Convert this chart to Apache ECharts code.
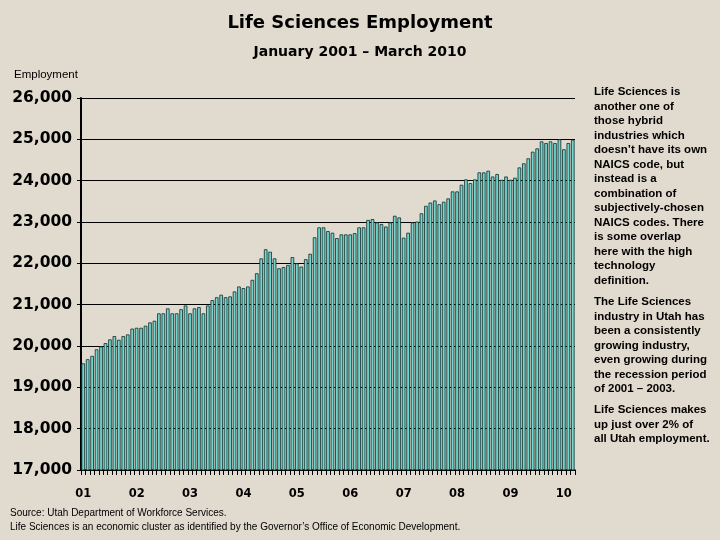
<!DOCTYPE html>
<html>
<head>
<meta charset="utf-8">
<script src="https://cdn.jsdelivr.net/npm/echarts@6/dist/echarts.min.js"></script>
<style>
html,body{margin:0;padding:0;background:#e1dace;}
#c{width:720px;height:540px;}
</style>
</head>
<body>
<div id="c"></div>
<script>
// Monthly Life Sciences employment, Utah
const y2001 = [19580, 19680, 19760, 19920, 19990, 20070, 20160, 20240, 20150, 20240, 20280, 20420];
const y2002 = [20440, 20440, 20490, 20570, 20610, 20790, 20790, 20910, 20790, 20790, 20890, 20980];
const y2003 = [20790, 20910, 20940, 20790, 20980, 21110, 21180, 21240, 21180, 21200, 21320, 21440];
const y2004 = [21400, 21440, 21600, 21760, 22120, 22340, 22280, 22120, 21880, 21910, 21960, 22150];
const y2005 = [22000, 21920, 22100, 22230, 22630, 22870, 22870, 22780, 22740, 22610, 22700, 22700];
const y2006 = [22700, 22730, 22870, 22870, 23050, 23070, 22990, 22950, 22890, 22990, 23150, 23110];
const y2007 = [22620, 22740, 22990, 23010, 23210, 23390, 23470, 23520, 23430, 23490, 23570, 23740];
const y2008 = [23740, 23900, 24030, 23940, 24030, 24200, 24200, 24240, 24100, 24160, 24020, 24100];
const y2009 = [24020, 24070, 24320, 24420, 24540, 24700, 24780, 24950, 24910, 24950, 24910, 25000];
const y2010 = [24760, 24910, 24990];
const yearLabels = ['01', '02', '03', '04', '05', '06', '07', '08', '09', '10'];
const yearValues = [y2001, y2002, y2003, y2004, y2005, y2006, y2007, y2008, y2009, y2010];

const categories = [];
const values = [];
yearValues.forEach((arr, yi) => {
  arr.forEach((v, m) => {
    categories.push(m === 0 ? yearLabels[yi] : yearLabels[yi] + '-' + (m + 1));
    values.push(v);
  });
});

const sideText = [
  'Life Sciences is\nanother one of\nthose hybrid\nindustries which\ndoesn\u2019t have its own\nNAICS code, but\ninstead is a\ncombination of\nsubjectively-chosen\nNAICS codes. There\nis some overlap\nhere with the high\ntechnology\ndefinition.',
  'The Life Sciences\nindustry in Utah has\nbeen a consistently\ngrowing industry,\neven growing during\nthe recession period\nof 2001 \u2013 2003.',
  'Life Sciences makes\nup just over 2% of\nall Utah employment.'
];

const chart = echarts.init(document.getElementById('c'), null, {renderer: 'canvas'});
const sideFont = 'bold 11.5px "Liberation Sans", Arial, sans-serif';
const smallFont = '10px "Liberation Sans", Arial, sans-serif';
chart.setOption({
  backgroundColor: '#e1dace',
  animation: false,
  title: [
    {text: 'Life Sciences Employment', left: 'center', top: 9,
     textStyle: {fontFamily: '"DejaVu Sans"', fontWeight: 'bold', fontSize: 18, color: '#000'}},
    {text: 'January 2001 \u2013 March 2010', left: 'center', top: 40,
     textStyle: {fontFamily: '"DejaVu Sans"', fontWeight: 'bold', fontSize: 14, color: '#000'}}
  ],
  grid: {left: 81, right: 145, top: 98, bottom: 70},
  xAxis: {
    type: 'category',
    data: categories,
    boundaryGap: true,
    axisLine: {lineStyle: {color: '#000', width: 1.5}},
    axisTick: {show: true, interval: 0, length: 5, lineStyle: {color: '#000', width: 1}},
    axisLabel: {
      interval: 0,
      formatter: v => (v.indexOf('-') === -1 ? v : ''),
      margin: 18,
      fontFamily: '"DejaVu Sans"', fontWeight: 'bold', fontSize: 11.5, color: '#000'
    },
    splitLine: {show: false}
  },
  yAxis: {
    type: 'value',
    min: 17000, max: 26000, interval: 1000,
    axisLine: {show: true, lineStyle: {color: '#000', width: 2}},
    axisTick: {show: true, length: 4, lineStyle: {color: '#000'}},
    axisLabel: {
      formatter: v => v.toLocaleString('en-US'),
      margin: 9,
      fontFamily: '"DejaVu Sans"', fontWeight: 'bold', fontSize: 15.5, color: '#000'
    },
    splitLine: {show: true, lineStyle: {color: '#000', width: 1}}
  },
  series: [{
    type: 'bar',
    data: values,
    barCategoryGap: '20%',
    itemStyle: {color: '#72d8cf', borderColor: '#0f2b2b', borderWidth: 0.8}
  }],
  graphic: [
    {type: 'text', left: 14, top: 69,
     style: {text: 'Employment', font: '11.5px "Liberation Sans", Arial, sans-serif', fill: '#000'}},
    {type: 'text', left: 594, top: 85,
     style: {text: sideText[0], font: sideFont, fill: '#000', lineHeight: 14.5}},
    {type: 'text', left: 594, top: 295,
     style: {text: sideText[1], font: sideFont, fill: '#000', lineHeight: 14.5}},
    {type: 'text', left: 594, top: 403,
     style: {text: sideText[2], font: sideFont, fill: '#000', lineHeight: 14.5}},
    {type: 'text', left: 10, top: 508,
     style: {text: 'Source: Utah Department of Workforce Services.', font: smallFont, fill: '#000'}},
    {type: 'text', left: 10, top: 522,
     style: {text: 'Life Sciences is an economic cluster as identified by the Governor\u2019s Office of Economic Development.', font: smallFont, fill: '#000'}}
  ]
});
</script>
</body>
</html>
